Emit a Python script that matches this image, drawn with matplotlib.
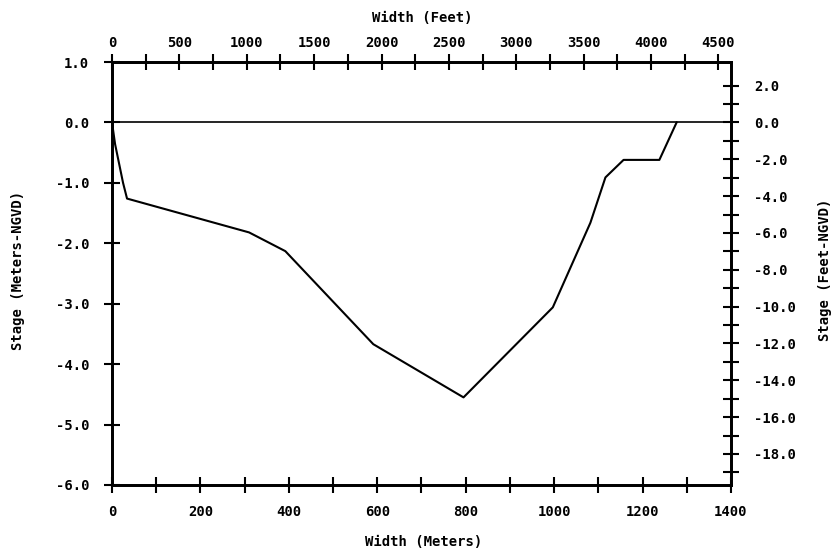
import matplotlib
matplotlib.use('Agg')
import matplotlib.pyplot as plt
import numpy as np
from matplotlib.ticker import MultipleLocator, FormatStrFormatter

# cross-section profile (meters)
width_m = [0, 7, 25, 34, 310, 392, 591, 795, 997, 1082, 1116, 1157, 1238, 1277]
stage_m = [0, -0.36, -1.0, -1.26, -1.82, -2.13, -3.67, -4.55, -3.06, -1.66, -0.91, -0.62, -0.62, 0]

M2FT = 1 / 0.3048
font = dict(family='DejaVu Sans Mono', weight='bold', size=10)
tick_kw = dict(direction='inout', length=11, width=1.5, colors='k', labelsize=10)

fig = plt.figure(figsize=(8.37, 5.51), dpi=100)
ax = fig.add_axes([112 / 837, 66 / 551, (731 - 112) / 837, (485 - 62) / 551])

ax.plot(width_m, stage_m, color='k', lw=1.5)
ax.axhline(0, color='k', lw=1.2)
ax.set_xlim(0, 1400)
ax.set_ylim(-6, 1)

ax.xaxis.set_major_locator(MultipleLocator(200))
ax.xaxis.set_minor_locator(MultipleLocator(100))
ax.yaxis.set_major_locator(MultipleLocator(1))
ax.yaxis.set_major_formatter(FormatStrFormatter('%.1f'))
ax.tick_params(axis='both', which='both', **tick_kw)
ax.tick_params(axis='x', which='both', pad=9)
ax.tick_params(axis='y', which='both', pad=11)

# top axis in feet
axt = ax.twiny()
axt.set_xlim(0, 1400 * M2FT)
axt.set_xticks(np.arange(0, 4501, 500))
axt.set_xticks(np.arange(250, 4500, 500), minor=True)
axt.tick_params(axis='x', which='both', pad=3, **tick_kw)

# right axis in feet
axr = ax.twinx()
axr.set_ylim(-6 * M2FT, 1 * M2FT)
axr.set_yticks(np.arange(-18, 3, 2))
axr.set_yticks(np.arange(-19, 2, 2), minor=True)
axr.yaxis.set_major_formatter(FormatStrFormatter('%.1f'))
axr.tick_params(axis='y', which='both', pad=11, **tick_kw)

for a in (ax, axt, axr):
    for s in a.spines.values():
        s.set_linewidth(1.8)
    for lab in a.get_xticklabels() + a.get_yticklabels():
        lab.set_fontfamily('DejaVu Sans Mono')
        lab.set_fontweight('bold')

fig.text(422 / 837, 1 - 18 / 551, 'Width (Feet)', ha='center', va='center', **font)
fig.text(424 / 837, 1 - 542 / 551, 'Width (Meters)', ha='center', va='center', **font)
fig.text(18 / 837, 1 - 270 / 551, 'Stage (Meters-NGVD)', ha='center', va='center', rotation=90, **font)
fig.text(825 / 837, 1 - 270 / 551, 'Stage (Feet-NGVD)', ha='center', va='center', rotation=90, **font)

fig.savefig('out.png', dpi=100)
